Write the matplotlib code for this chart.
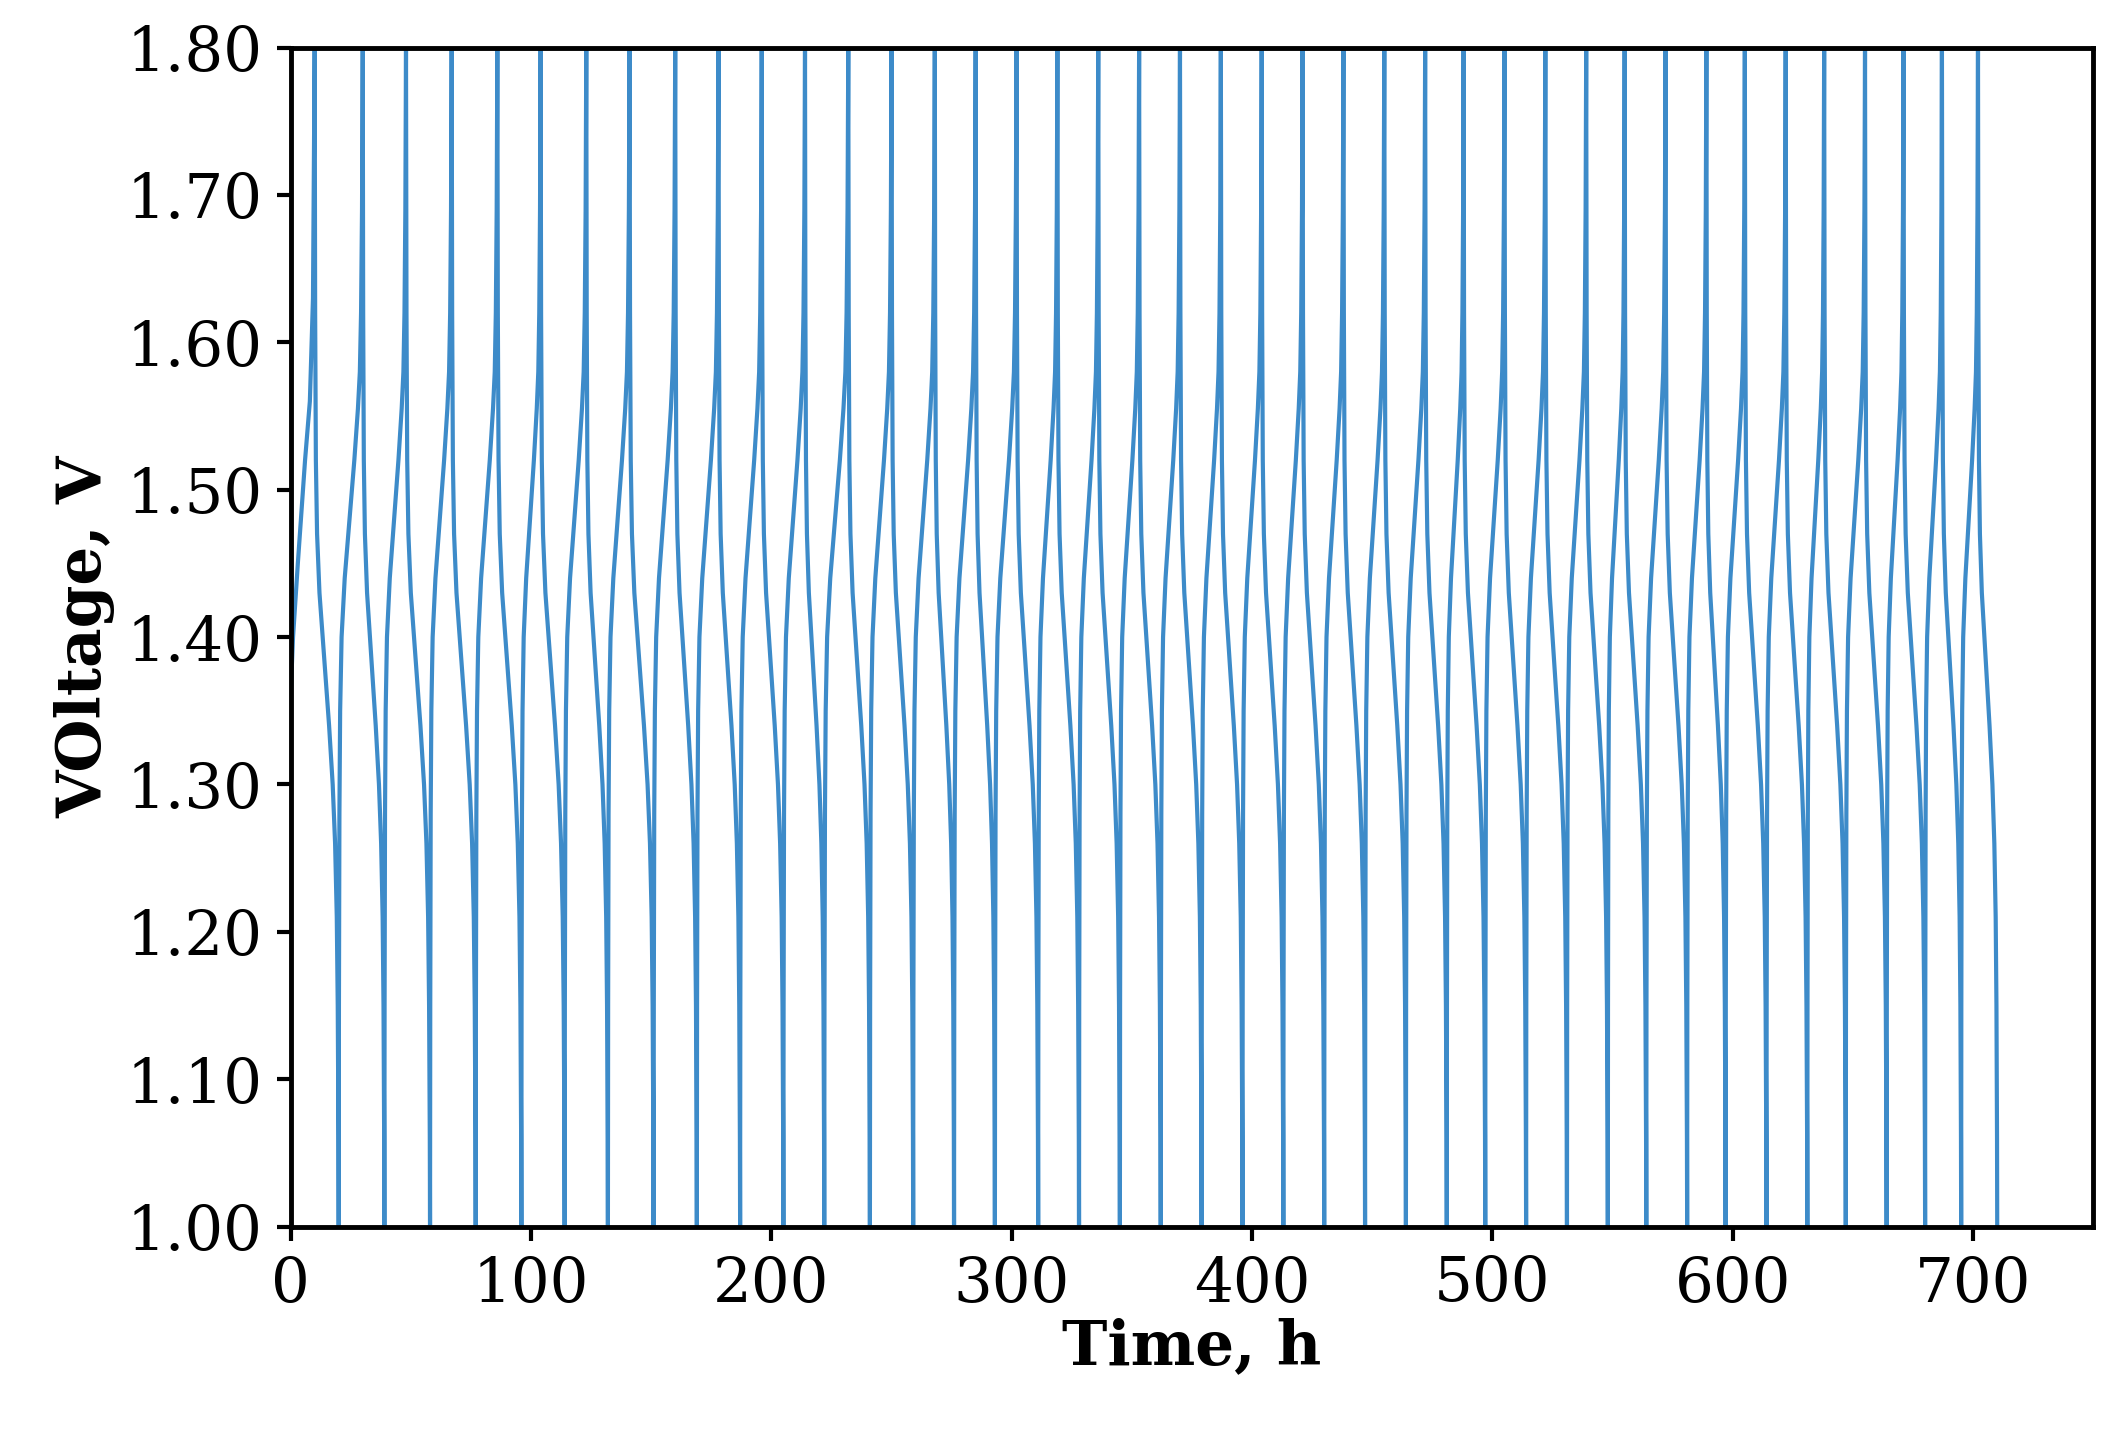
import matplotlib
matplotlib.use("Agg")
import matplotlib.pyplot as plt
import numpy as np

start_time = 0.0
start_voltage = 1.36
peak_times = [10, 30, 48, 67, 86, 104, 123, 141, 160, 178, 196, 214, 232, 250, 268, 285, 302, 319, 336, 353,
              370, 387, 404, 421, 438, 455, 472, 488, 505, 522, 539, 555, 572, 589, 605, 622, 638, 655, 671, 687, 702]
trough_times = [20, 39, 58, 77, 96, 114, 132, 151, 169, 187, 205, 222, 241, 259, 276, 293, 311, 328, 345, 362,
                379, 396, 413, 430, 447, 464, 481, 497, 514, 531, 548, 564, 581, 597, 614, 631, 647, 664, 680, 695, 710]
# profile shapes (fraction of step duration, voltage)
charge_frac = [0, 0.01, 0.03, 0.06, 0.12, 0.25, 0.45, 0.65, 0.8, 0.88, 0.93, 0.97, 1.0]
charge_v = [1.00, 1.15, 1.28, 1.35, 1.40, 1.44, 1.48, 1.52, 1.555, 1.58, 1.62, 1.69, 1.80]
discharge_frac = [0, 0.02, 0.05, 0.1, 0.2, 0.4, 0.6, 0.75, 0.85, 0.92, 0.96, 0.99, 1.0]
discharge_v = [1.80, 1.62, 1.52, 1.47, 1.43, 1.385, 1.34, 1.30, 1.26, 1.21, 1.15, 1.06, 1.00]

t = [start_time]; v = [start_voltage]
t += [1, 3, 6, 8, 9.3, peak_times[0]]; v += [1.40, 1.45, 1.52, 1.56, 1.63, 1.80]
for i, tr in enumerate(trough_times):
    pk = peak_times[i]
    t += [pk + f * (tr - pk) for f in discharge_frac[1:]]
    v += discharge_v[1:]
    if i + 1 < len(peak_times):
        npk = peak_times[i + 1]
        t += [tr + f * (npk - tr) for f in charge_frac[1:]]
        v += charge_v[1:]

fig = plt.figure(figsize=(21.06, 14.43), dpi=100)
ax = fig.add_axes([0.138, 0.150, 0.856, 0.817])
ax.plot(t, v, color='#3d8bc9', lw=3)
ax.set_xlim(0, 750)
ax.set_ylim(1.0, 1.8)
ax.set_xticks(range(0, 701, 100))
ax.set_yticks(np.arange(1.0, 1.801, 0.1))
ax.set_yticklabels([f"{y:.2f}" for y in np.arange(1.0, 1.801, 0.1)])
for s in ax.spines.values():
    s.set_linewidth(3.5)
ax.tick_params(labelsize=44, width=3, length=10, direction='out', pad=10)
for lab in ax.get_xticklabels() + ax.get_yticklabels():
    lab.set_family('DejaVu Serif')
ax.set_xlabel('Time, h', fontsize=44, fontweight='bold', family='DejaVu Serif', labelpad=2)
ax.set_ylabel('VOltage, V', fontsize=44, fontweight='bold', family='DejaVu Serif', labelpad=8)
fig.savefig('out.png', dpi=100)
